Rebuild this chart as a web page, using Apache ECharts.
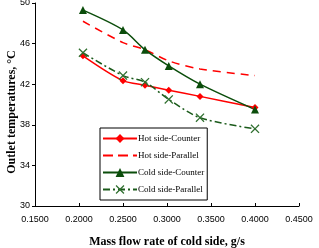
<!DOCTYPE html>
<html>
<head>
    <meta charset="utf-8">
    <title>ECharts</title>
    <script src="https://cdn.jsdelivr.net/npm/echarts@6/dist/echarts.min.js"></script>
</head>
<body style="margin:0">
    <div id="main" style="width: 319px;height:248px;"></div>
    <script type="text/javascript">
        // mass flow rate of cold side (g/s)
        var flow = [0.2045, 0.2500, 0.2750, 0.3020, 0.3375, 0.4000];
        var hotCounter = [44.8, 42.35, 41.9, 41.4, 40.8, 39.7];
        var hotParallel = [48.2, 46.1, 45.4, 44.3, 43.5, 42.85];
        var coldCounter = [49.3, 47.35, 45.4, 43.8, 42.0, 39.5];
        var coldParallel = [45.1, 42.85, 42.2, 40.5, 38.7, 37.6];
        var names = ['Hot side-Counter', 'Hot side-Parallel', 'Cold side-Counter', 'Cold side-Parallel'];

        function pairs(ys) {
            return flow.map(function (x, i) { return [x, ys[i]]; });
        }
        var cross = 'path://M0,1L1,0L5,4L9,0L10,1L6,5L10,9L9,10L5,6L1,10L0,9L4,5Z';
        var dashIcon = 'path://M0,0H10V2H0Z M15,0H25V2H15Z M30,0H34V2H30Z';

        var myChart = echarts.init(document.getElementById('main'));
        myChart.setOption({
            animation: false,
            grid: {left: 35, right: 20, top: 3, bottom: 42, outerBoundsMode: 'none'},
            graphic: [{
                type: 'text', x: 12, y: 112, rotation: Math.PI / 2,
                style: {
                    text: 'Outlet temperatures, \u00b0C',
                    fontFamily: 'Liberation Serif', fontWeight: 'bold', fontSize: 12,
                    fill: '#000', align: 'center', verticalAlign: 'middle'
                }
            }],
            legend: {
                data: [names[0], {name: names[1], icon: dashIcon}, names[2], names[3]],
                orient: 'vertical',
                left: 100, top: 128,
                borderColor: '#000', borderWidth: 1,
                padding: [6, 3, 6, 2],
                itemGap: 8, itemWidth: 34, itemHeight: 11,
                textStyle: {fontFamily: 'Liberation Serif', fontSize: 9, color: '#000', padding: [0, 0, 0, -4]}
            },
            xAxis: {
                type: 'value', min: 0.15, max: 0.45, interval: 0.05,
                name: 'Mass flow rate of cold side, g/s',
                nameLocation: 'middle', nameGap: 30,
                nameTextStyle: {fontFamily: 'Liberation Serif', fontWeight: 'bold', fontSize: 12, color: '#000'},
                axisLine: {lineStyle: {color: '#000'}},
                axisTick: {inside: true, length: 3, lineStyle: {color: '#000'}},
                axisLabel: {fontFamily: 'Liberation Sans', fontSize: 9, color: '#000', margin: 9,
                    formatter: function (v) { return v.toFixed(4); }},
                splitLine: {show: false}
            },
            yAxis: {
                type: 'value', min: 30, max: 50, interval: 4,
                axisLine: {show: true, lineStyle: {color: '#000'}},
                axisTick: {show: true, length: 3, lineStyle: {color: '#000'}},
                axisLabel: {fontFamily: 'Liberation Sans', fontSize: 9, color: '#000', margin: 5},
                splitLine: {show: false}
            },
            series: [
                {
                    name: names[0], type: 'line', smooth: 0.3, data: pairs(hotCounter),
                    symbol: 'diamond', symbolSize: 7,
                    itemStyle: {color: '#ff0000'},
                    lineStyle: {color: '#ff0000', width: 1.5}
                },
                {
                    name: names[1], type: 'line', smooth: 0.3, data: pairs(hotParallel),
                    symbol: 'none',
                    itemStyle: {color: '#ff0000'},
                    lineStyle: {color: '#ff0000', width: 1.5, type: [8, 6]}
                },
                {
                    name: names[2], type: 'line', smooth: 0.3, data: pairs(coldCounter),
                    symbol: 'triangle', symbolSize: 8,
                    itemStyle: {color: '#0b4d0b'},
                    lineStyle: {color: '#0b4d0b', width: 1.5}
                },
                {
                    name: names[3], type: 'line', smooth: 0.3, data: pairs(coldParallel),
                    symbol: cross, symbolSize: 9,
                    itemStyle: {color: '#2f6f2f'},
                    lineStyle: {color: '#1a5a1a', width: 1.5, type: [7, 3, 2, 3]}
                }
            ]
        });
    </script>
</body>
</html>
